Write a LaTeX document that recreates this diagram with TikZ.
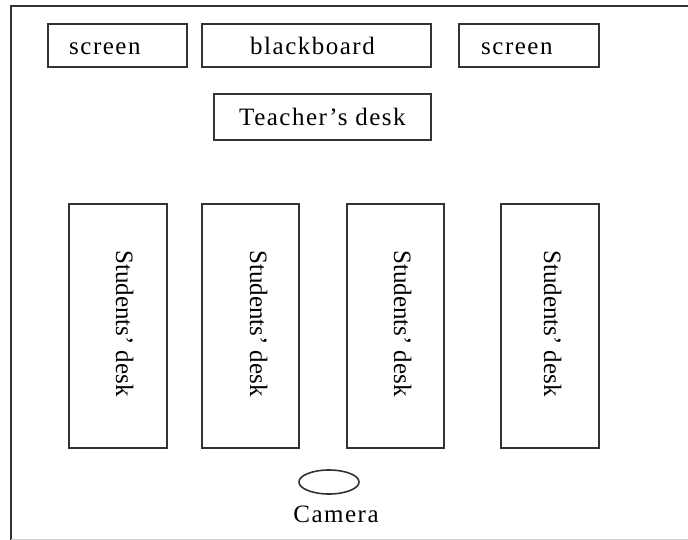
\documentclass[tikz,border=0pt]{standalone}
\usepackage{fontspec}
\setmainfont{Liberation Serif}[LetterSpace=6.0]
\newfontfamily\plainserif{Liberation Serif}[Ligatures=TeX]
\usetikzlibrary{shapes.geometric}
\definecolor{linegray}{HTML}{333333}
\begin{document}
\begin{tikzpicture}[x=1pt,y=-1pt,
  box/.style={draw=linegray,line width=2pt,inner sep=0pt,anchor=north west},
  lbl/.style={inner sep=0pt,anchor=base west,font=\fontsize{25}{30}\selectfont,text=black},
  vlbl/.style={inner sep=0pt,anchor=base west,font=\plainserif\fontsize{25}{30}\selectfont,text=black,rotate=-90}]
\useasboundingbox (0,0) rectangle (688,540);
% outer frame
\draw[linegray,line width=2pt] (11,545) -- (11,6) -- (695,6);
\draw[gray!40,line width=1pt] (11,539) -- (688,539);
% top row
\node[box,minimum width=139pt,minimum height=43pt] (scr1) at (47,23) {};
\node[box,minimum width=229pt,minimum height=43pt] (bb) at (201,23) {};
\node[box,minimum width=140pt,minimum height=43pt] (scr2) at (458,23) {};
\node[lbl] (scr1t) at (69,55) {screen};
\node[lbl] (bbt) at (250,55) {blackboard};
\node[lbl] (scr2t) at (481,55) {screen};
% teacher
\node[box,minimum width=217pt,minimum height=46pt] (td) at (213,93) {};
\node[lbl] (tdt) at (239,126) {Teacher’s desk};
% students desks
\node[box,minimum width=98pt,minimum height=244pt] (d1) at (68,203) {};
\node[box,minimum width=97pt,minimum height=244pt] (d2) at (201,203) {};
\node[box,minimum width=97pt,minimum height=244pt] (d3) at (346,203) {};
\node[box,minimum width=98pt,minimum height=244pt] (d4) at (500,203) {};
\node[vlbl] (d1t) at (116,250) {Students’ desk};
\node[vlbl] (d2t) at (250,250) {Students’ desk};
\node[vlbl] (d3t) at (394,250) {Students’ desk};
\node[vlbl] (d4t) at (544,250) {Students’ desk};
% camera
\node[ellipse,draw=linegray,line width=1.6pt,minimum width=60pt,minimum height=24pt,inner sep=0pt] (cam) at (329,482) {};
\node[lbl,anchor=base] (camt) at (336,522) {Camera};
\end{tikzpicture}
\end{document}
